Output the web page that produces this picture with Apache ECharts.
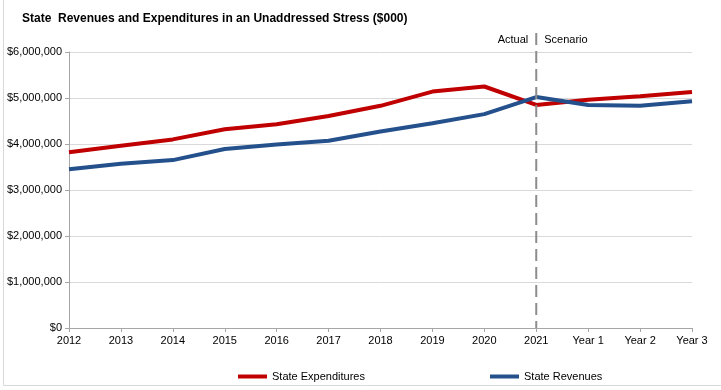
<!DOCTYPE html>
<html><head><meta charset="utf-8">
<script src="https://cdn.jsdelivr.net/npm/echarts@6/dist/echarts.min.js"></script>
<style>html,body{margin:0;padding:0;background:#fff}#c{width:721px;height:390px}</style>
</head><body><div id="c"></div>
<script>
const categories = ['2012','2013','2014','2015','2016','2017','2018','2019','2020','2021','Year 1','Year 2','Year 3'];
const expenditures = [3820000,3960000,4100000,4320000,4430000,4610000,4830000,5140000,5250000,4850000,4960000,5040000,5130000];
const revenues = [3450000,3570000,3650000,3890000,3990000,4070000,4270000,4450000,4650000,5020000,4850000,4830000,4930000];
const dividerCategory = '2021';
const dividerLabels = ['Actual','Scenario'];

const font = '"Liberation Sans Narrow", "Liberation Sans", Arial, sans-serif';
const chart = echarts.init(document.getElementById('c'));
chart.setOption({
  animation: false,
  title: { text: 'State  Revenues and Expenditures in an Unaddressed Stress ($000)', left: 17, top: 8,
    textStyle: { fontFamily: '"Liberation Sans", Arial, sans-serif', fontSize: 12, fontWeight: 'bold', color: '#000' } },
  grid: { left: 69, right: 29, top: 52, bottom: 62 },
  xAxis: { type: 'category', data: categories, boundaryGap: false,
    axisLine: { lineStyle: { color: '#a6a6a6' } },
    axisTick: { show: true, length: 4, lineStyle: { color: '#a6a6a6' } },
    axisLabel: { fontFamily: font, fontSize: 11, color: '#000', margin: 7 } },
  yAxis: { type: 'value', min: 0, max: 6000000, interval: 1000000,
    axisLine: { show: true, lineStyle: { color: '#a6a6a6' } },
    axisTick: { show: true, length: 4, lineStyle: { color: '#a6a6a6' } },
    splitLine: { lineStyle: { color: '#d9d9d9', width: 1 } },
    axisLabel: { fontFamily: font, fontSize: 11, color: '#000', margin: 7,
      formatter: v => '$' + v.toLocaleString('en-US') } },
  legend: [
    { data: ['State Expenditures'], left: 233, top: 366, itemWidth: 29, itemHeight: 4, icon: 'rect',
      textStyle: { fontFamily: font, fontSize: 11, color: '#000' }, itemGap: 4 },
    { data: ['State Revenues'], left: 485, top: 366, itemWidth: 29, itemHeight: 4, icon: 'rect',
      textStyle: { fontFamily: font, fontSize: 11, color: '#000' } }
  ],
  series: [
    { name: 'State Expenditures', type: 'line', data: expenditures, symbol: 'none',
      lineStyle: { color: '#C00000', width: 4 }, itemStyle: { color: '#C00000' }, z: 3 },
    { name: 'State Revenues', type: 'line', data: revenues, symbol: 'none',
      lineStyle: { color: '#24508C', width: 4 }, itemStyle: { color: '#24508C' }, z: 4 }
  ]
});
const x = chart.convertToPixel({ xAxisIndex: 0 }, dividerCategory);
const yTop = chart.convertToPixel({ yAxisIndex: 0 }, 6000000);
const yBot = chart.convertToPixel({ yAxisIndex: 0 }, 0);
chart.setOption({
  graphic: [
    { type: 'rect', shape: { x: 3.5, y: -1, width: 740, height: 386.5 }, style: { fill: 'none', stroke: '#d9d9d9', lineWidth: 1 }, silent: true },
    { type: 'line', shape: { x1: x, y1: yTop - 19, x2: x, y2: yBot }, style: { stroke: '#8c8c8c', lineWidth: 2, lineDash: [12, 6] }, z: 10 },
    { type: 'text', style: { text: dividerLabels[0], x: x - 8, y: yTop - 12, align: 'right', verticalAlign: 'middle', font: '11px ' + font, fill: '#000' } },
    { type: 'text', style: { text: dividerLabels[1], x: x + 8, y: yTop - 12, align: 'left', verticalAlign: 'middle', font: '11px ' + font, fill: '#000' } }
  ]
});
</script></body></html>
